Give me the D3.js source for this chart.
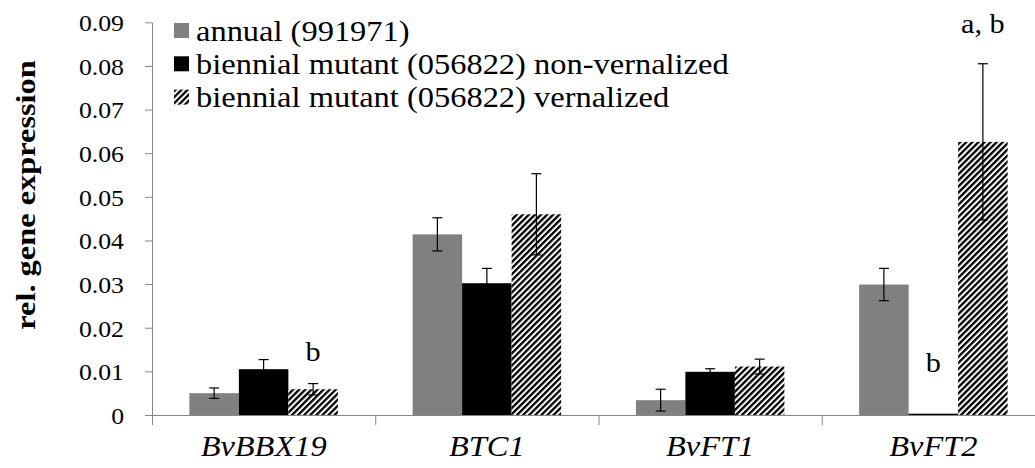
<!DOCTYPE html>
<html>
<head>
<meta charset="utf-8">
<script src="https://cdn.jsdelivr.net/npm/d3@7"></script>
<style>
  body { margin: 0; background: #fff; }
  svg { display: block; }
  text { font-family: "Liberation Serif", "Times New Roman", serif; fill: #000; }
</style>
</head>
<body>
<svg id="chart" width="1035" height="468"></svg>
<script>
// Relative expression of flowering-time genes (mean ± SE)
const genes = ["BvBBX19", "BTC1", "BvFT1", "BvFT2"];
const seriesNames = [
  "annual (991971)",
  "biennial mutant (056822) non-vernalized",
  "biennial mutant (056822) vernalized"
];
const annualMean  = [0.0050, 0.0414, 0.0034, 0.0299];
const annualErr   = [0.0012, 0.0038, 0.0025, 0.0037];
const nonVernMean = [0.0105, 0.0302, 0.0099, 0.0003];
const nonVernErr  = [0.0022, 0.0034, 0.0007, 0.0000];
const vernMean    = [0.0059, 0.0460, 0.0111, 0.0626];
const vernErr     = [0.0013, 0.0093, 0.0017, 0.0179];

const yTicks = [0, 0.01, 0.02, 0.03, 0.04, 0.05, 0.06, 0.07, 0.08, 0.09];
const yTickLabels = ["0", "0.01", "0.02", "0.03", "0.04", "0.05", "0.06", "0.07", "0.08", "0.09"];

// significance letters: gene, series index, text, baseline level (in expression units)
const letterGenes  = ["BvBBX19", "BvFT2", "BvFT2"];
const letterSeries = [2, 1, 2];
const letterTexts  = ["b", "b", "a, b"];
const letterLevels = [0.0124, 0.0099, 0.0875];

const means = [annualMean, nonVernMean, vernMean];
const errs  = [annualErr, nonVernErr, vernErr];
const rows = [];
genes.forEach((g, gi) => {
  seriesNames.forEach((s, si) => {
    rows.push({ gene: g, series: si, mean: means[si][gi], err: errs[si][gi] });
  });
});

const svg = d3.select("#chart");
const plotLeft = 152, plotRight = 1045, plotTop = 22.3, plotBottom = 415;
const axisGrey = "#868686";
const fills = ["#808080", "#000000", "url(#hatch)"];

// diagonal hatching for the vernalized series
const defs = svg.append("defs");
const pat = defs.append("pattern")
  .attr("id", "hatch")
  .attr("patternUnits", "userSpaceOnUse")
  .attr("width", 4.3).attr("height", 10)
  .attr("patternTransform", "rotate(45)");
pat.append("rect").attr("width", 4.3).attr("height", 10).attr("fill", "#fff");
pat.append("rect").attr("width", 2.3).attr("height", 10).attr("fill", "#000");

const y = d3.scaleLinear().domain([0, 0.09]).range([plotBottom, plotTop]);
const x0 = d3.scaleBand().domain(genes).range([plotLeft, plotRight]).padding(0);
const x1 = d3.scaleBand().domain(d3.range(seriesNames.length))
  .range([0, x0.bandwidth()]).paddingInner(0).paddingOuter(0.755);

// y axis
const yAxis = svg.append("g")
  .attr("transform", `translate(${plotLeft},0)`)
  .call(d3.axisLeft(y).tickValues(yTicks).tickFormat((d, i) => yTickLabels[i]).tickSize(7).tickSizeOuter(0));
yAxis.select(".domain").attr("stroke", axisGrey);
yAxis.selectAll(".tick line").attr("stroke", axisGrey);
yAxis.selectAll(".tick text")
  .attr("x", null).attr("dy", null)
  .attr("text-anchor", "end")
  .attr("dominant-baseline", "central")
  .attr("fill", "#000")
  .style("font-family", '"Liberation Serif", serif')
  .style("font-size", "22.6px")
  .attr("transform", "translate(-28,0.5) scale(1.14,1)");
// extend the axis line down to the category tick length
svg.append("line")
  .attr("x1", plotLeft + 0.5).attr("x2", plotLeft + 0.5).attr("y1", plotBottom).attr("y2", plotBottom + 10)
  .attr("stroke", axisGrey);

// x axis: baseline with category separators
const xAxis = svg.append("g")
  .attr("transform", `translate(0,${plotBottom})`)
  .call(d3.axisBottom(x0).tickSize(0).tickSizeOuter(0).tickFormat(""));
xAxis.select(".domain").attr("stroke", axisGrey).attr("d", `M${plotLeft},0.5H${plotRight}`);
xAxis.selectAll(".tick").remove();
const seps = genes.map(g => x0(g)).concat([x0(genes[genes.length - 1]) + x0.bandwidth()]);
svg.append("g").selectAll("line").data(seps).join("line")
  .attr("x1", d => d + 0.5).attr("x2", d => d + 0.5)
  .attr("y1", plotBottom).attr("y2", plotBottom + 10)
  .attr("stroke", axisGrey);

// category labels
svg.append("g").selectAll("text").data(genes).join("text")
  .attr("transform", d => `translate(${x0(d) + x0.bandwidth() / 2},456) scale(1.08,1)`)
  .attr("text-anchor", "middle")
  .style("font-style", "italic")
  .style("font-size", "30px")
  .text(d => d);

// bars
svg.append("g").selectAll("rect").data(rows).join("rect")
  .attr("x", d => x0(d.gene) + x1(d.series))
  .attr("width", x1.bandwidth())
  .attr("y", d => y(d.mean))
  .attr("height", d => y(0) - y(d.mean))
  .attr("fill", d => fills[d.series]);

// error bars
const eb = svg.append("g").attr("stroke", "#000").attr("stroke-width", 1.2)
  .selectAll("g").data(rows.filter(d => d.err > 0)).join("g")
  .attr("transform", d => `translate(${x0(d.gene) + x1(d.series) + x1.bandwidth() / 2},0)`);
eb.append("line").attr("y1", d => y(d.mean + d.err)).attr("y2", d => y(d.mean - d.err));
eb.append("line").attr("x1", -5).attr("x2", 5).attr("y1", d => y(d.mean + d.err)).attr("y2", d => y(d.mean + d.err));
eb.append("line").attr("x1", -5).attr("x2", 5).attr("y1", d => y(d.mean - d.err)).attr("y2", d => y(d.mean - d.err));

// significance letters
svg.append("g").selectAll("text").data(letterTexts).join("text")
  .attr("transform", (d, i) =>
    `translate(${x0(letterGenes[i]) + x1(letterSeries[i]) + x1.bandwidth() / 2},${y(letterLevels[i])}) scale(1.08,1)`)
  .attr("text-anchor", "middle")
  .style("font-size", "28px")
  .text(d => d);

// y axis title
svg.append("text")
  .attr("transform", `translate(35,195) rotate(-90) scale(1.2,1)`)
  .attr("text-anchor", "middle")
  .style("font-weight", "bold")
  .style("font-size", "27px")
  .text("rel. gene expression");

// legend
const legend = svg.append("g").selectAll("g").data(seriesNames).join("g")
  .attr("transform", (d, i) => `translate(174,${23 + i * 33.3})`);
legend.append("rect")
  .attr("width", 15).attr("height", 15)
  .attr("fill", (d, i) => fills[i]);
legend.append("text")
  .attr("transform", "translate(22,17.5) scale(1.12,1)")
  .style("font-size", "29px")
  .text(d => d);
</script>
</body>
</html>
